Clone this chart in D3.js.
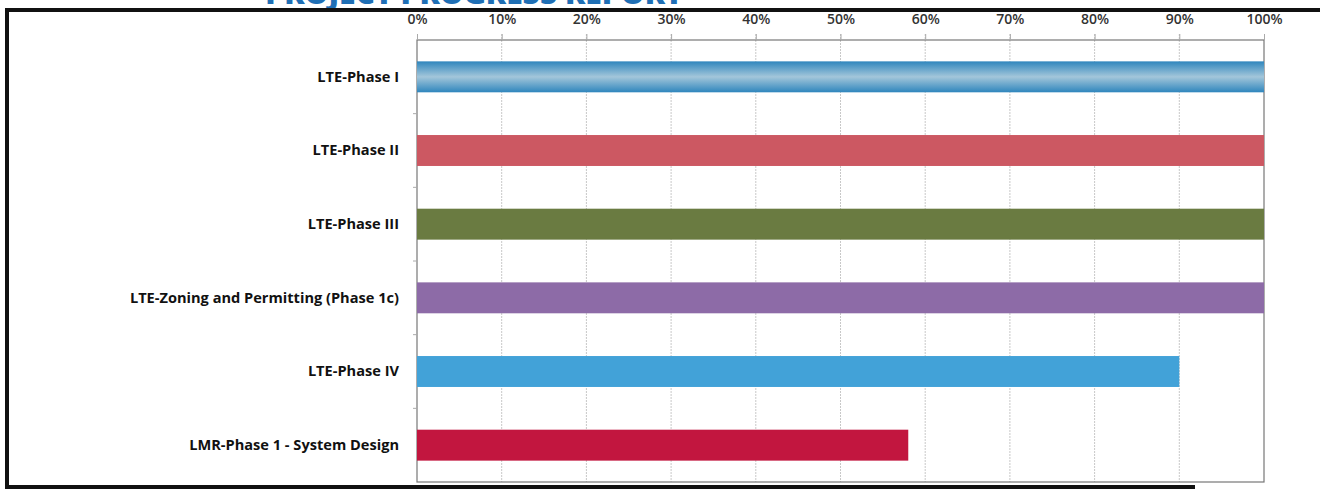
<!DOCTYPE html>
<html><head><meta charset="utf-8">
<script src="https://cdn.jsdelivr.net/npm/d3@7"></script>
<style>body{margin:0;background:#fff}svg{display:block}</style>
</head><body>
<script>
const categories = ["LTE-Phase I","LTE-Phase II","LTE-Phase III","LTE-Zoning and Permitting (Phase 1c)","LTE-Phase IV","LMR-Phase 1 - System Design"];
const values = [100,100,100,100,90,58];
const colors = ["#3b8fc2","#cc5862","#6a7b41","#8d6ba7","#42a2d8","#c2163f"];
const tickValues = [0,10,20,30,40,50,60,70,80,90,100];
const titleText = "PROJECT PROGRESS REPORT";

(function(){
const W=1320,H=491;
const svg=d3.select("body").append("svg").attr("width",W).attr("height",H);
const pL=417,pR=1264,pT=40,pB=482;
const x=d3.scaleLinear().domain([0,100]).range([pL,pR]);
const y=d3.scaleBand().domain(categories).range([pT,pB]).paddingInner(0.58).paddingOuter(0.29);

const defs=svg.append("defs");
const g=defs.append("linearGradient").attr("id","bevel").attr("x1",0).attr("y1",0).attr("x2",0).attr("y2",1);
g.append("stop").attr("offset","0%").attr("stop-color","#2f86bd");
g.append("stop").attr("offset","50%").attr("stop-color","#a3c6da");
g.append("stop").attr("offset","100%").attr("stop-color","#2f86bd");

svg.append("text").attr("x",474).attr("y",4).attr("text-anchor","middle")
  .attr("font-family","'Open Sans', sans-serif").attr("font-weight","800").attr("font-size",30)
  .attr("fill","#1f6fb5").text(titleText);

svg.append("rect").attr("x",5).attr("y",8).attr("width",1320).attr("height",4).attr("fill","#111");
svg.append("rect").attr("x",5).attr("y",8).attr("width",4).attr("height",481).attr("fill","#111");
svg.append("rect").attr("x",5).attr("y",485).attr("width",1190).attr("height",4).attr("fill","#111");

svg.append("g").selectAll("line").data(tickValues.slice(1,-1)).join("line")
  .attr("x1",d=>x(d)).attr("x2",d=>x(d)).attr("y1",pT-6).attr("y2",pB)
  .attr("stroke","#c8c8c8").attr("stroke-width",1).attr("stroke-dasharray","2,1");

svg.append("rect").attr("x",pL).attr("y",pT).attr("width",pR-pL).attr("height",pB-pT)
  .attr("fill","none").attr("stroke","#777").attr("stroke-width",1.2);

const ax=d3.axisTop(x).tickValues(tickValues).tickFormat(d=>d+"%").tickSize(6).tickSizeOuter(0);
const axg=svg.append("g").attr("transform",`translate(0,${pT})`).call(ax);
axg.select(".domain").remove();
axg.selectAll(".tick line").attr("stroke","#aaa");
axg.selectAll(".tick text").attr("y",-16).attr("font-family","'Open Sans', sans-serif").attr("font-weight","600")
  .attr("font-size",14).attr("fill","#333");

const ay=d3.axisLeft(y).tickSize(0).tickPadding(18);
const ayg=svg.append("g").attr("transform",`translate(${pL},0)`).call(ay);
ayg.select(".domain").remove();
ayg.selectAll(".tick text").attr("font-family","'Open Sans', sans-serif").attr("font-weight","700")
  .attr("font-size",14.6).attr("fill","#111");
const n=categories.length;
svg.append("g").selectAll("line").data(d3.range(1,n)).join("line")
  .attr("x1",pL-4).attr("x2",pL).attr("y1",i=>pT+i*(pB-pT)/n).attr("y2",i=>pT+i*(pB-pT)/n)
  .attr("stroke","#aaa");

svg.append("g").selectAll("rect").data(categories).join("rect")
  .attr("x",x(0)).attr("y",d=>y(d)).attr("height",y.bandwidth())
  .attr("width",(d,i)=>x(values[i])-x(0))
  .attr("fill",(d,i)=>i===0?"url(#bevel)":colors[i]);
})();
</script>
</body></html>
